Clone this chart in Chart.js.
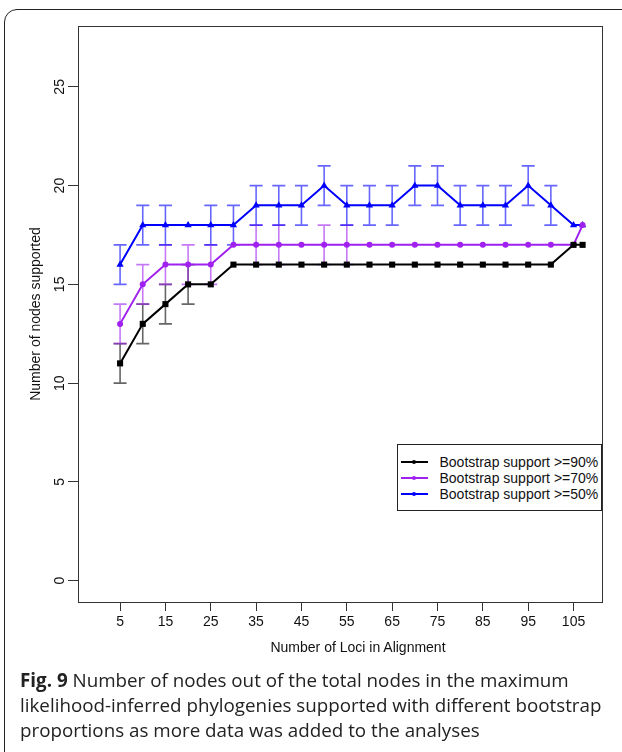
<!DOCTYPE html>
<html><head><meta charset="utf-8">
<script src="https://cdn.jsdelivr.net/npm/chart.js@4.4.0/dist/chart.umd.min.js"></script>
<style>
html,body{margin:0;padding:0;background:#fff;width:622px;height:752px;overflow:hidden;position:relative;font-family:'Liberation Sans',Arial,sans-serif;}
#frame{position:absolute;left:4px;top:9px;width:640px;height:770px;border:1.5px solid #222;border-radius:13px;box-sizing:border-box;}
#wrap{position:absolute;left:0;top:0;width:622px;height:672px;}
#legend{position:absolute;left:396.5px;top:443.5px;width:205.5px;height:67px;border:1px solid #222;box-sizing:border-box;background:#fff;}
.row{position:absolute;left:0;height:16px;font-size:14px;line-height:16px;color:#111;}
.ln{position:absolute;left:3px;top:7px;width:27px;height:2px;}
.dot{position:absolute;left:11.5px;top:-1px;width:4px;height:4px;border-radius:2px;}
.tx{position:absolute;left:42px;top:0;white-space:nowrap;}
#xtitle{position:absolute;top:639px;left:0;width:716px;text-align:center;font-size:14px;line-height:16px;color:#111;}
#caption{position:absolute;left:20px;top:667.5px;font-family:'Open Sans',sans-serif;font-size:18.8px;line-height:25px;color:#222;white-space:nowrap;}
#caption b{font-weight:700;}
</style></head>
<body>
<div id="frame"></div>
<div id="wrap"><canvas id="c" width="622" height="672"></canvas></div>
<div id="legend">
  <div class="row" style="top:9.5px"><div class="ln" style="background:#000"><div class="dot" style="background:#000"></div></div><span class="tx">Bootstrap support &gt;=90%</span></div>
  <div class="row" style="top:25.8px"><div class="ln" style="background:#a020f0"><div class="dot" style="background:#a020f0"></div></div><span class="tx">Bootstrap support &gt;=70%</span></div>
  <div class="row" style="top:41.8px"><div class="ln" style="background:#0000ff"><div class="dot" style="background:#0000ff"></div></div><span class="tx">Bootstrap support &gt;=50%</span></div>
</div>
<div id="xtitle">Number of Loci in Alignment</div>
<div id="caption"><b>Fig. 9</b> Number of nodes out of the total nodes in the maximum<br>likelihood-inferred phylogenies supported with different bootstrap<br>proportions as more data was added to the analyses</div>
<script>
// ---- data ----
const loci = [5,10,15,20,25,30,35,40,45,50,55,60,65,70,75,80,85,90,95,100,105,107];
const support90 = [11,13,14,15,15,16,16,16,16,16,16,16,16,16,16,16,16,16,16,16,17,17];
const support70 = [13,15,16,16,16,17,17,17,17,17,17,17,17,17,17,17,17,17,17,17,17,18];
const support50 = [16,18,18,18,18,18,19,19,19,20,19,19,19,20,20,19,19,19,20,19,18,18];
const err90 = [1,1,1,1,0,0,0,0,0,0,0,0,0,0,0,0,0,0,0,0,0,0];
const err70 = [1,1,1,1,1,0,1,1,0,1,1,0,0,0,0,0,0,0,0,0,0,0];
const err50 = [1,1,1,0,1,1,1,1,1,1,1,1,1,1,1,1,1,1,1,1,0,0];
const xTicks = [5,15,25,35,45,55,65,75,85,95,105];
const yTicks = [0,5,10,15,20,25];
const seriesLabels = ['Bootstrap support >=90%','Bootstrap support >=70%','Bootstrap support >=50%'];

const boxPlugin = {
  id:'box',
  beforeDatasetsDraw(chart){
    const {ctx, chartArea:a} = chart;
    ctx.save();
    ctx.strokeStyle = '#333'; ctx.lineWidth = 1;
    ctx.strokeRect(Math.round(a.left)+0.5, Math.round(a.top)+0.5, Math.round(a.right-a.left), Math.round(a.bottom-a.top));
    ctx.restore();
  }
};
const errorBars = {
  id:'errorBars',
  beforeDatasetsDraw(chart){
    const {ctx, scales:{x,y}} = chart;
    ctx.save();
    chart.data.datasets.forEach(ds=>{
      ctx.strokeStyle = ds.errColor; ctx.lineWidth = 1.6;
      ds.data.forEach((p,i)=>{
        const e = ds.errors[i]; if(!e) return;
        const px = x.getPixelForValue(p.x);
        const y1 = y.getPixelForValue(p.y - e), y2 = y.getPixelForValue(p.y + e);
        ctx.beginPath();
        ctx.moveTo(px,y1); ctx.lineTo(px,y2);
        ctx.moveTo(px-6.5,y1); ctx.lineTo(px+6.5,y1);
        ctx.moveTo(px-6.5,y2); ctx.lineTo(px+6.5,y2);
        ctx.stroke();
      });
    });
    ctx.restore();
  }
};
const mk = (vals)=>loci.map((x,i)=>({x:x,y:vals[i]}));
new Chart(document.getElementById('c'), {
  type:'line',
  data:{datasets:[
    {label:seriesLabels[0], data:mk(support90), errors:err90, errColor:'rgba(0,0,0,0.6)', borderColor:'#000', backgroundColor:'#000', borderWidth:2, pointStyle:'rect', pointRadius:4.3, pointBorderWidth:0, tension:0},
    {label:seriesLabels[1], data:mk(support70), errors:err70, errColor:'rgba(160,32,240,0.6)', borderColor:'#a020f0', backgroundColor:'#a020f0', borderWidth:2, pointStyle:'circle', pointRadius:3, pointBorderWidth:0, tension:0},
    {label:seriesLabels[2], data:mk(support50), errors:err50, errColor:'rgba(0,0,255,0.6)', borderColor:'#0000ff', backgroundColor:'#0000ff', borderWidth:2, pointStyle:'triangle', pointRadius:4.2, pointBorderWidth:0, tension:0}
  ]},
  options:{
    responsive:false, animation:false, devicePixelRatio:1,
    layout:{padding:{top:26,right:20,left:0,bottom:0}},
    plugins:{legend:{display:false}, tooltip:{enabled:false}},
    scales:{
      x:{type:'linear', min:-4.28, max:111.28,
        afterBuildTicks:s=>{s.ticks = xTicks.map(v=>({value:v}));},
        afterFit:s=>{s.height=70;},
        grid:{drawOnChartArea:false, drawTicks:true, tickLength:9, color:'#333', tickColor:'#333'},
        border:{display:false},
        ticks:{font:{family:"'Liberation Sans', Arial, sans-serif", size:14}, color:'#111', padding:3, maxRotation:0, minRotation:0, autoSkip:false}
      },
      y:{type:'linear', min:-1.08, max:28.08,
        afterBuildTicks:s=>{s.ticks = yTicks.map(v=>({value:v}));},
        afterFit:s=>{s.width=78;},
        grid:{drawOnChartArea:false, drawTicks:true, tickLength:10, color:'#333', tickColor:'#333'},
        border:{display:false},
        ticks:{font:{family:"'Liberation Sans', Arial, sans-serif", size:14}, color:'#111', padding:0, minRotation:90, maxRotation:90, crossAlign:'center', autoSkip:false},
        title:{display:true, text:'Number of nodes supported', color:'#111', font:{family:"'Liberation Sans', Arial, sans-serif", size:14}, padding:{top:28,bottom:0}}
      }
    }
  },
  plugins:[boxPlugin, errorBars]
});
</script>
</body></html>
